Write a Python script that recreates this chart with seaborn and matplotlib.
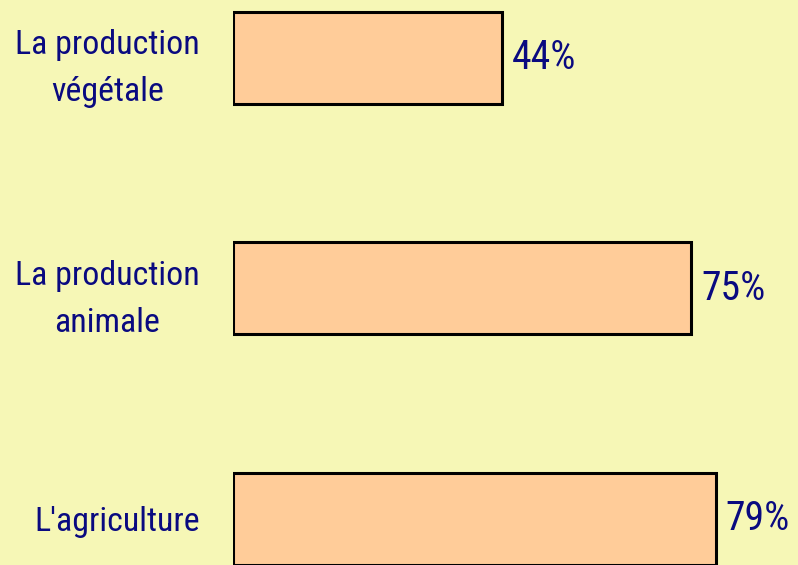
import matplotlib
matplotlib.use("Agg")
import matplotlib.pyplot as plt
from matplotlib import font_manager
import seaborn as sns
import pandas as pd

categories = ["La production\nvégétale", "La production\nanimale", "L'agriculture"]
values = [44, 75, 79]
value_labels = ["44%", "75%", "79%"]

bg = "#F6F7B6"
bar_color = "#FFCC99"
text_color = "#0A0A80"

# narrow font if one is installed
family = "DejaVu Sans"
for fam in ["Liberation Sans Narrow", "Roboto Condensed", "Open Sans Condensed"]:
    try:
        font_manager.findfont(font_manager.FontProperties(family=fam),
                              fallback_to_default=False)
        family = fam
        break
    except ValueError:
        pass

sns.set_style("white")
plt.rcParams['font.family'] = [family, 'DejaVu Sans']
plt.rcParams['font.stretch'] = 'condensed'

df = pd.DataFrame({"cat": categories, "val": values})

fig = plt.figure(figsize=(7.98, 5.65), dpi=100, facecolor=bg)
ax = fig.add_axes([233 / 798, 0, 1 - 233 / 798, 1])
ax.set_facecolor(bg)

sns.barplot(data=df, x="val", y="cat", color=bar_color, edgecolor="black",
            linewidth=2.2, width=0.4, saturation=1, ax=ax)

ax.set_xlim(0, 565 / 6.11)
ax.set_ylim(2.2, -0.25)
ax.bar_label(ax.containers[0], labels=value_labels, padding=7,
             fontsize=28.5, color=text_color)

for s in ax.spines.values():
    s.set_visible(False)
ax.set_xticks([])
ax.set_xlabel("")
ax.set_ylabel("")
ax.tick_params(axis="y", length=0, pad=24, labelsize=24.4, labelcolor=text_color)
for lab in ax.get_yticklabels():
    lab.set_multialignment("center")
    lab.set_linespacing(1.6)

fig.savefig("out.png", dpi=100, facecolor=bg)
